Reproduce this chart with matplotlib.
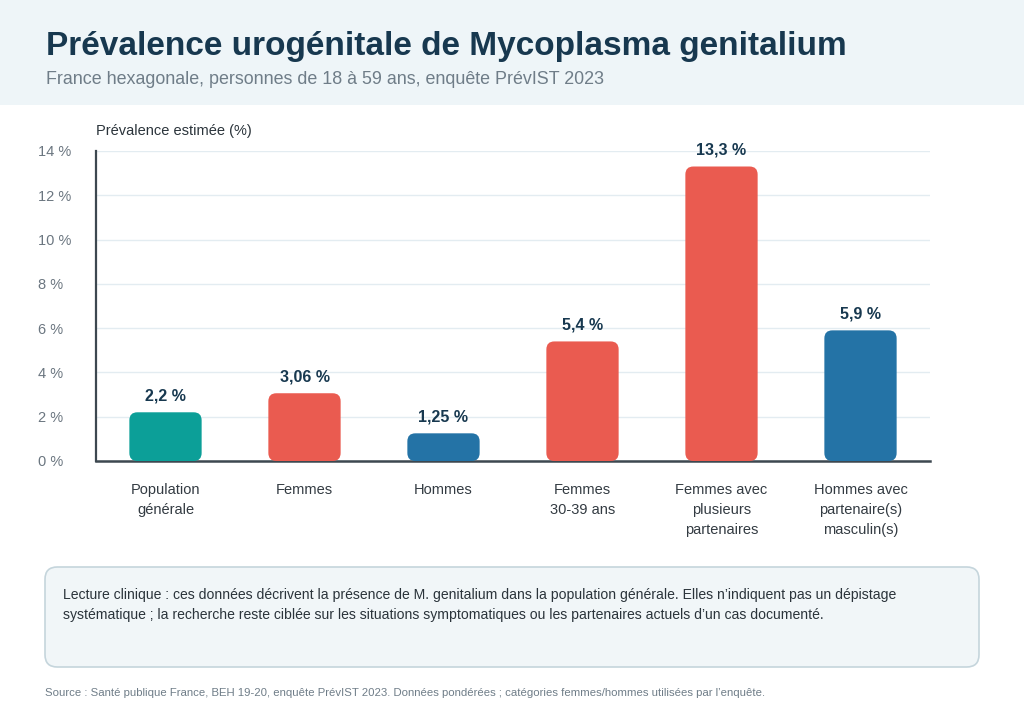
import matplotlib
matplotlib.use("Agg")
import matplotlib.pyplot as plt
from matplotlib.patches import FancyBboxPatch, Rectangle

plt.rcParams['font.family'] = ['Liberation Sans', 'DejaVu Sans']

categories = ["Population\ngénérale", "Femmes", "Hommes", "Femmes\n30-39 ans",
              "Femmes avec\nplusieurs\npartenaires", "Hommes avec\npartenaire(s)\nmasculin(s)"]
values = [2.2, 3.06, 1.25, 5.4, 13.3, 5.9]
value_labels = ["2,2 %", "3,06 %", "1,25 %", "5,4 %", "13,3 %", "5,9 %"]
groups = ["all", "f", "m", "f", "f", "m"]
yticks = [0, 2, 4, 6, 8, 10, 12, 14]
ytick_labels = ["0 %", "2 %", "4 %", "6 %", "8 %", "10 %", "12 %", "14 %"]

colors = {"all": "#0c9f98", "f": "#ea5b50", "m": "#2473a6"}
W, H = 1024, 717
fig = plt.figure(figsize=(W / 100, H / 100), dpi=100)
fig.patch.set_facecolor("white")

# header band
fig.add_artist(Rectangle((0, 1 - 105 / H), 1, 105 / H, transform=fig.transFigure,
                         facecolor="#eef5f8", edgecolor="none", zorder=0))
fig.text(46 / W, 1 - 46 / H, "Prévalence urogénitale de Mycoplasma genitalium",
         fontsize=24, fontweight="bold", color="#17384f", va="center", ha="left")
fig.text(46 / W, 1 - 79 / H, "France hexagonale, personnes de 18 à 59 ans, enquête PrévIST 2023",
         fontsize=12.9, color="#6f7d88", va="center", ha="left")

ax = fig.add_axes([96 / W, 1 - 461 / H, (930 - 96) / W, (461 - 151) / H])
ax.set_xlim(-0.5, len(values) - 0.5)
ax.set_ylim(0, 14)
ax.set_facecolor("none")
for s in ["top", "right"]:
    ax.spines[s].set_visible(False)
ax.spines["left"].set_color("#3d4850")
ax.spines["left"].set_linewidth(1.6)
ax.spines["bottom"].set_color("#3d4850")
ax.spines["bottom"].set_linewidth(1.8)
ax.set_yticks(yticks)
ax.set_yticklabels(ytick_labels)
ax.tick_params(axis="y", length=0, pad=42, labelsize=10.5, labelcolor="#6b7680")
for lab in ax.get_yticklabels():
    lab.set_horizontalalignment("left")
ax.set_xticks(range(len(categories)))
ax.set_xticklabels(categories, linespacing=1.55)
ax.tick_params(axis="x", length=0, pad=16, labelsize=10.5, labelcolor="#333b42")
ax.grid(axis="y", color="#e3ecf1", linewidth=1)
ax.set_axisbelow(True)

fig.text(96 / W, 1 - 131 / H, "Prévalence estimée (%)", fontsize=10.5, color="#2b343b",
         va="center", ha="left")

# rounded bars
bw = 0.52
px_per_x = (930 - 96) / len(values)
px_per_y = (461 - 151) / 14
r_px = 8
r_x = r_px / px_per_x
aspect = (r_px / px_per_y) / r_x
for i, (v, g, lbl) in enumerate(zip(values, groups, value_labels)):
    p = FancyBboxPatch((i - bw / 2, 0), bw, v,
                       boxstyle=f"round,pad=0,rounding_size={r_x}",
                       mutation_aspect=aspect, facecolor=colors[g], edgecolor="none",
                       zorder=3, clip_on=False)
    ax.add_patch(p)
    ax.annotate(lbl, (i, v), xytext=(0, 6.5), textcoords="offset points",
                ha="center", va="bottom", fontsize=11.5, fontweight="bold", color="#17384f")

# note box
box = FancyBboxPatch((45 / W, 1 - 667 / H), (979 - 45) / W, 100 / H,
                     boxstyle="round,pad=0,rounding_size=0.012",
                     transform=fig.transFigure, facecolor="#f1f6f8",
                     edgecolor="#c5d5dc", linewidth=1.2, mutation_aspect=W / H)
fig.add_artist(box)
fig.text(63 / W, 1 - 595 / H,
         "Lecture clinique : ces données décrivent la présence de M. genitalium dans la population générale. Elles n’indiquent pas un dépistage",
         fontsize=10.1, color="#2b343b", va="center", ha="left")
fig.text(63 / W, 1 - 615 / H,
         "systématique ; la recherche reste ciblée sur les situations symptomatiques ou les partenaires actuels d’un cas documenté.",
         fontsize=10.1, color="#2b343b", va="center", ha="left")

fig.text(45 / W, 1 - 693 / H,
         "Source : Santé publique France, BEH 19-20, enquête PrévIST 2023. Données pondérées ; catégories femmes/hommes utilisées par l’enquête.",
         fontsize=8.2, color="#6f7d88", va="center", ha="left")

fig.savefig("out.png", dpi=100)
